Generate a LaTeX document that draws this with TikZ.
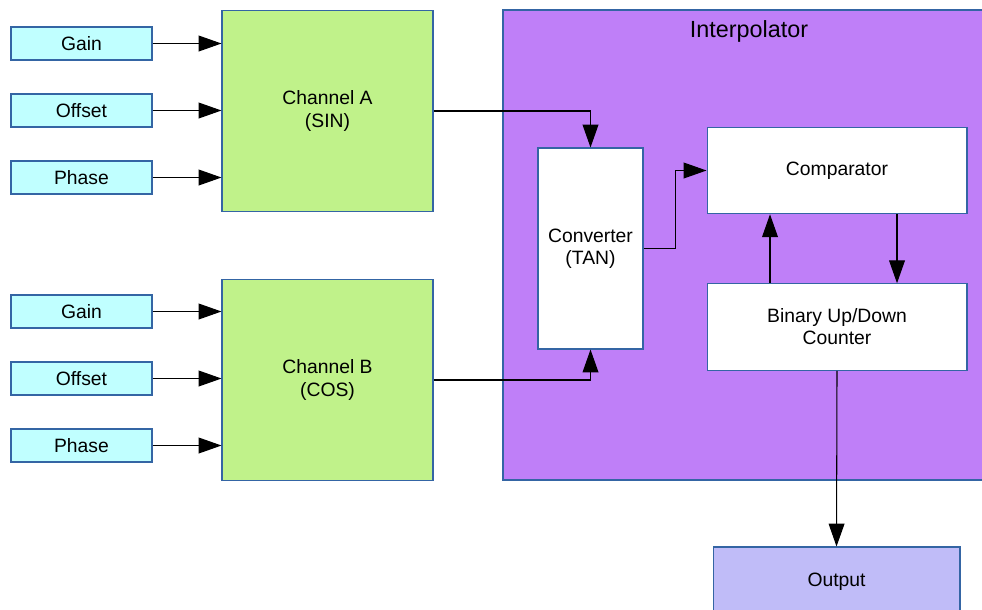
\documentclass[tikz,border=0pt]{standalone}
\usepackage{fontspec}
\setmainfont{Liberation Sans}
\usetikzlibrary{arrows.meta}

\definecolor{boxline}{RGB}{52,101,164}
\definecolor{inputfill}{RGB}{192,255,255}
\definecolor{chanfill}{RGB}{192,242,138}
\definecolor{interpfill}{RGB}{191,127,248}
\definecolor{outfill}{RGB}{192,188,248}

\begin{document}
\begin{tikzpicture}[x=0.02cm, y=-0.02cm, font=\fontsize{11}{12.5}\selectfont,
    box/.style={draw=boxline, line width=0.6pt, inner sep=0pt, align=center},
    input/.style={box, fill=inputfill, minimum width=2.82cm, minimum height=0.66cm},
    channel/.style={box, fill=chanfill, minimum width=4.22cm, minimum height=4.02cm},
    stage/.style={box, fill=white, minimum width=5.2cm, minimum height=1.73cm},
    >={Triangle[length=13pt, width=9pt]}, line width=0.6pt]
    \clip (0, 0) rectangle (982, 609);

    % interpolator frame, runs off the right edge
    \draw [boxline, fill=interpfill] (503, 10) rectangle (1000, 480);
    \node (I) at (749, 31) {\fontsize{13.3}{15}\selectfont Interpolator};

    % channel A and its inputs
    \node [input] (gainA) at (81.5, 43.5) {Gain};
    \node [input] (offA) at (81.5, 110.5) {Offset};
    \node [input] (phA) at (81.5, 177.5) {Phase};
    \node [channel] (chA) at (327.5, 111) {Channel A\\[1pt](SIN)};

    % channel B and its inputs
    \node [input] (gainB) at (81.5, 311.5) {Gain};
    \node [input] (offB) at (81.5, 378.5) {Offset};
    \node [input] (phB) at (81.5, 445.5) {Phase};
    \node [channel] (chB) at (327.5, 380) {Channel B\\[1pt](COS)};

    % inside the interpolator
    \node [box, fill=white, minimum width=2.1cm, minimum height=4.02cm] (conv) at (590.5, 248.5) {Converter\\(TAN)};
    \node [stage] (comp) at (837, 170.5) {Comparator};
    \node [stage] (cnt) at (837, 327) {Binary Up/Down\\Counter};
    \node [box, fill=outfill, minimum width=4.94cm, minimum height=1.4cm] (out) at (836.5, 582) {Output};

    \foreach \n in {gainA, offA, phA}
        \draw [->] (\n) -- (\n -| chA.west);
    \foreach \n in {gainB, offB, phB}
        \draw [->] (\n) -- (\n -| chB.west);

    \draw [->] (chA.east) -| (conv.north);
    \draw [->] (chB.east) -| (conv.south);
    \draw [->] (conv.east) -- ++(32, 0) |- (comp.west);
    \draw [->] (cnt.north -| 770, 0) -- (comp.south -| 770, 0);
    \draw [->] (comp.south -| 897, 0) -- (cnt.north -| 897, 0);
    \draw [->] (cnt.south) -- (out.north);
\end{tikzpicture}
\end{document}
